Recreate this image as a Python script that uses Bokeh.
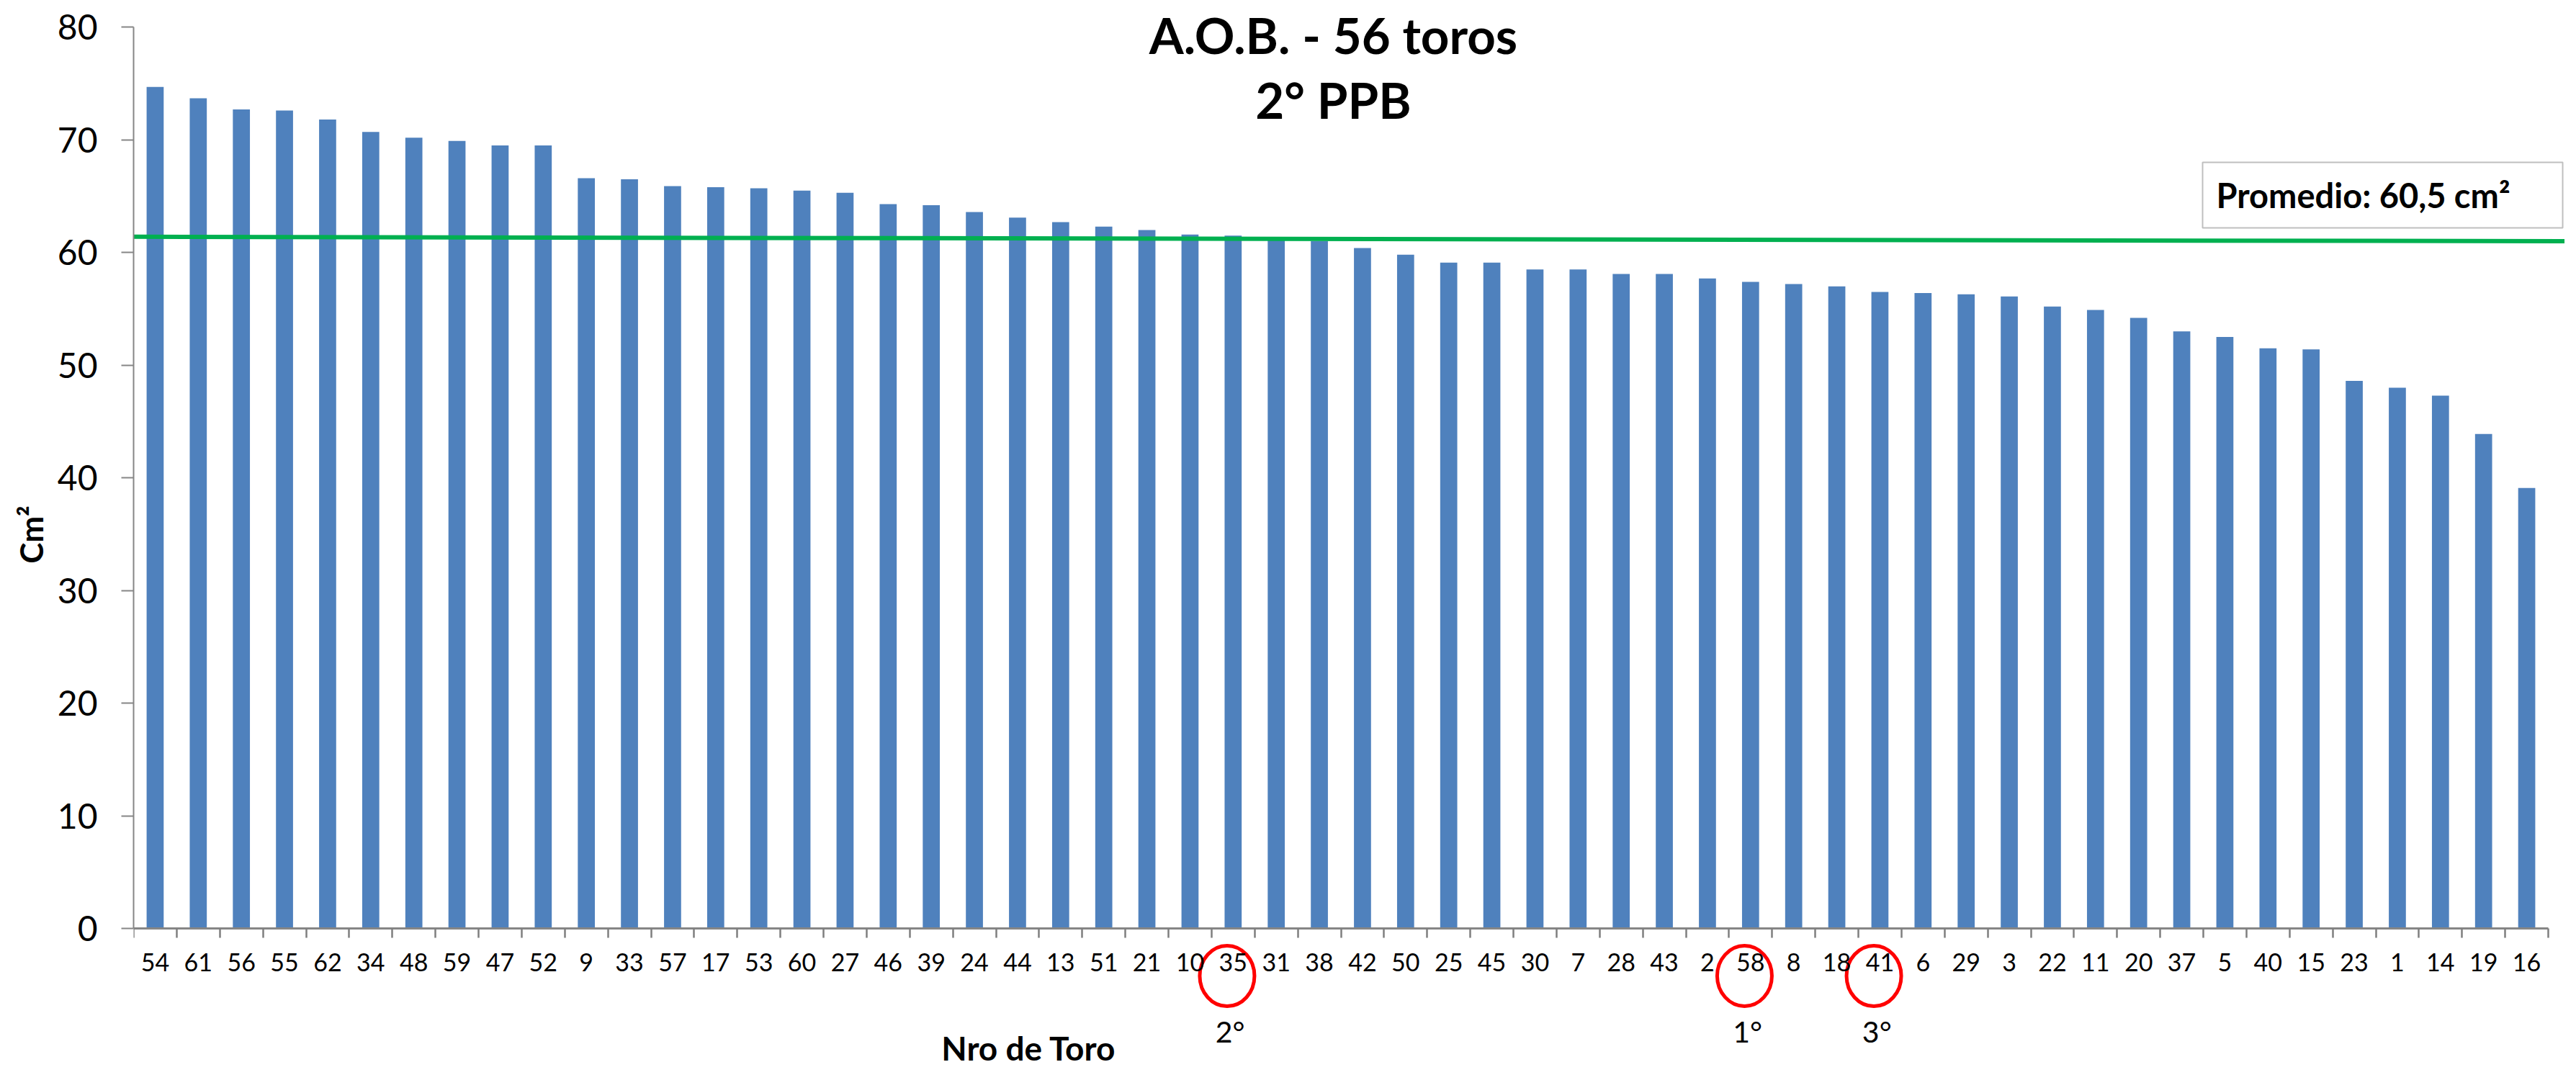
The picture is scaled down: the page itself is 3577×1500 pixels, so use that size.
import numpy as np
from bokeh.plotting import figure
from bokeh.models import Range1d, LinearAxis, FixedTicker, ColumnDataSource, Label
from bokeh.core.properties import value
from bokeh.embed import file_html
from bokeh.resources import INLINE

# ---------------- data ----------------
toros = ["54", "61", "56", "55", "62", "34", "48", "59", "47", "52", "9", "33", "57", "17",
         "53", "60", "27", "46", "39", "24", "44", "13", "51", "21", "10", "35", "31", "38",
         "42", "50", "25", "45", "30", "7", "28", "43", "2", "58", "8", "18", "41", "6",
         "29", "3", "22", "11", "20", "37", "5", "40", "15", "23", "1", "14", "19", "16"]
aob_cm2 = [74.7, 73.7, 72.7, 72.6, 71.8, 70.7, 70.2, 69.9, 69.5, 69.5, 66.6, 66.5, 65.9, 65.8,
           65.7, 65.5, 65.3, 64.3, 64.2, 63.6, 63.1, 62.7, 62.3, 62.0, 61.6, 61.5, 61.2, 61.0,
           60.4, 59.8, 59.1, 59.1, 58.5, 58.5, 58.1, 58.1, 57.7, 57.4, 57.2, 57.0, 56.5, 56.4,
           56.3, 56.1, 55.2, 54.9, 54.2, 53.0, 52.5, 51.5, 51.4, 48.6, 48.0, 47.3, 43.9, 39.1]
y_ticks = [0, 10, 20, 30, 40, 50, 60, 70, 80]
promedio_line = [61.4, 61.0]          # green reference line (left end, right end)
promedio_text = "Promedio: 60,5 cm²"
podium_toros = ["58", "35", "41"]
podium_labels = ["1°", "2°", "3°"]
title_lines = ["A.O.B. - 56 toros", "2° PPB"]
x_title = "Nro de Toro"
y_title = "Cm²"

# ---------------- layout ----------------
W, H = 3561, 1484
FRAME_LEFT = 185
PX_PER_CAT = 59.875
PX_PER_UNIT = 15.646
ZERO_PX = 1289
n = len(toros)
x_end = (W - FRAME_LEFT) / PX_PER_CAT
y_top = ZERO_PX / PX_PER_UNIT
y_bot = (ZERO_PX - H) / PX_PER_UNIT
FONT = "Lato"
BAR_BLUE = "#4F81BD"
AXIS_GREY = "#868686"


def vy(px):
    """vertical pixel position in the picture -> data units"""
    return (ZERO_PX - px) / PX_PER_UNIT


def vx(px):
    """horizontal pixel position in the picture -> data units"""
    return (px - FRAME_LEFT) / PX_PER_CAT


p = figure(width=W, height=H, output_backend="svg", toolbar_location=None,
           x_range=Range1d(0, x_end), y_range=Range1d(y_bot, y_top),
           x_axis_type=None, min_border_left=FRAME_LEFT, min_border_right=0,
           min_border_top=0, min_border_bottom=0)
p.outline_line_color = None
p.ygrid.grid_line_color = None
p.background_fill_color = "white"
p.border_fill_color = "white"

centers = np.arange(n) + 0.5
src = ColumnDataSource(dict(x=centers, top=aob_cm2, toro=toros))
p.vbar(x="x", top="top", bottom=0, width=0.396, source=src,
       fill_color=BAR_BLUE, line_color=None)

# average line
p.line(x=[0, x_end], y=promedio_line, line_color="#00B050", line_width=6)

# y axis
ya = p.yaxis[0]
ya.ticker = FixedTicker(ticks=y_ticks)
ya.bounds = (0, 80)
ya.axis_line_color = AXIS_GREY
ya.axis_line_width = 2
ya.major_tick_line_color = AXIS_GREY
ya.major_tick_line_width = 2
ya.major_tick_in = 0
ya.major_tick_out = 17
ya.minor_tick_line_color = None
ya.major_label_standoff = 33
ya.major_label_text_font = FONT
ya.major_label_text_font_size = "48px"
ya.major_label_text_color = "black"
ya.axis_label = y_title
ya.axis_label_text_font = FONT
ya.axis_label_text_font_style = "bold"
ya.axis_label_text_font_size = "44px"
ya.axis_label_text_color = "black"
ya.axis_label_standoff = 8

# x axis: labels at bar centres, tick marks at category boundaries
xa = LinearAxis(ticker=FixedTicker(ticks=[float(c) for c in centers],
                                   minor_ticks=list(range(n + 1))),
                fixed_location=0, bounds=(0, n),
                axis_line_color=AXIS_GREY, axis_line_width=3,
                major_tick_line_color=None, major_tick_in=0, major_tick_out=0,
                minor_tick_line_color="#7F7F7F", minor_tick_line_width=2.5,
                minor_tick_in=0, minor_tick_out=13,
                major_label_standoff=21,
                major_label_overrides={float(c): t for c, t in zip(centers, toros)},
                major_label_text_font=FONT, major_label_text_font_size="34px",
                major_label_text_color="black")
p.add_layout(xa, "below")

# podium marks
pod_x = [toros.index(t) + 0.5 for t in podium_toros]
pod_src = ColumnDataSource(dict(xc=[x - 0.14 for x in pod_x], xt=[x - 0.07 for x in pod_x],
                                lab=podium_labels))
p.ellipse(x="xc", y=vy(1355), width=76, height=84, width_units="screen", height_units="screen",
          source=pod_src, fill_color=None, line_color="#FF0000", line_width=5)
p.text(x="xt", y=vy(1432), text="lab", source=pod_src, text_font=value(FONT),
       text_font_size="41px", text_align="center", text_baseline="middle", text_color="black")

# title (two centred lines)
for line, mid_px in zip(title_lines, [48, 138]):
    p.add_layout(Label(x=vx(1851), y=vy(mid_px), text=line, text_font=FONT,
                       text_font_style="bold", text_font_size="69px", text_align="center",
                       text_baseline="middle", text_color="black"))

# x axis title
p.add_layout(Label(x=vx(1428), y=vy(1455), text=x_title, text_font=FONT,
                   text_font_style="bold", text_font_size="46px", text_align="center",
                   text_baseline="middle", text_color="black"))

# promedio box
p.quad(left=vx(3058), right=vx(W - 3), top=vy(225), bottom=vy(316),
       fill_color="white", line_color="#BFBFBF", line_width=2)
p.text(x=[vx(3077)], y=[vy(270)], text=[promedio_text], text_font=value(FONT),
       text_font_style="bold", text_font_size="47px", text_align="left",
       text_baseline="middle", text_color="black")

open("out.html", "w").write(file_html(p, INLINE))
